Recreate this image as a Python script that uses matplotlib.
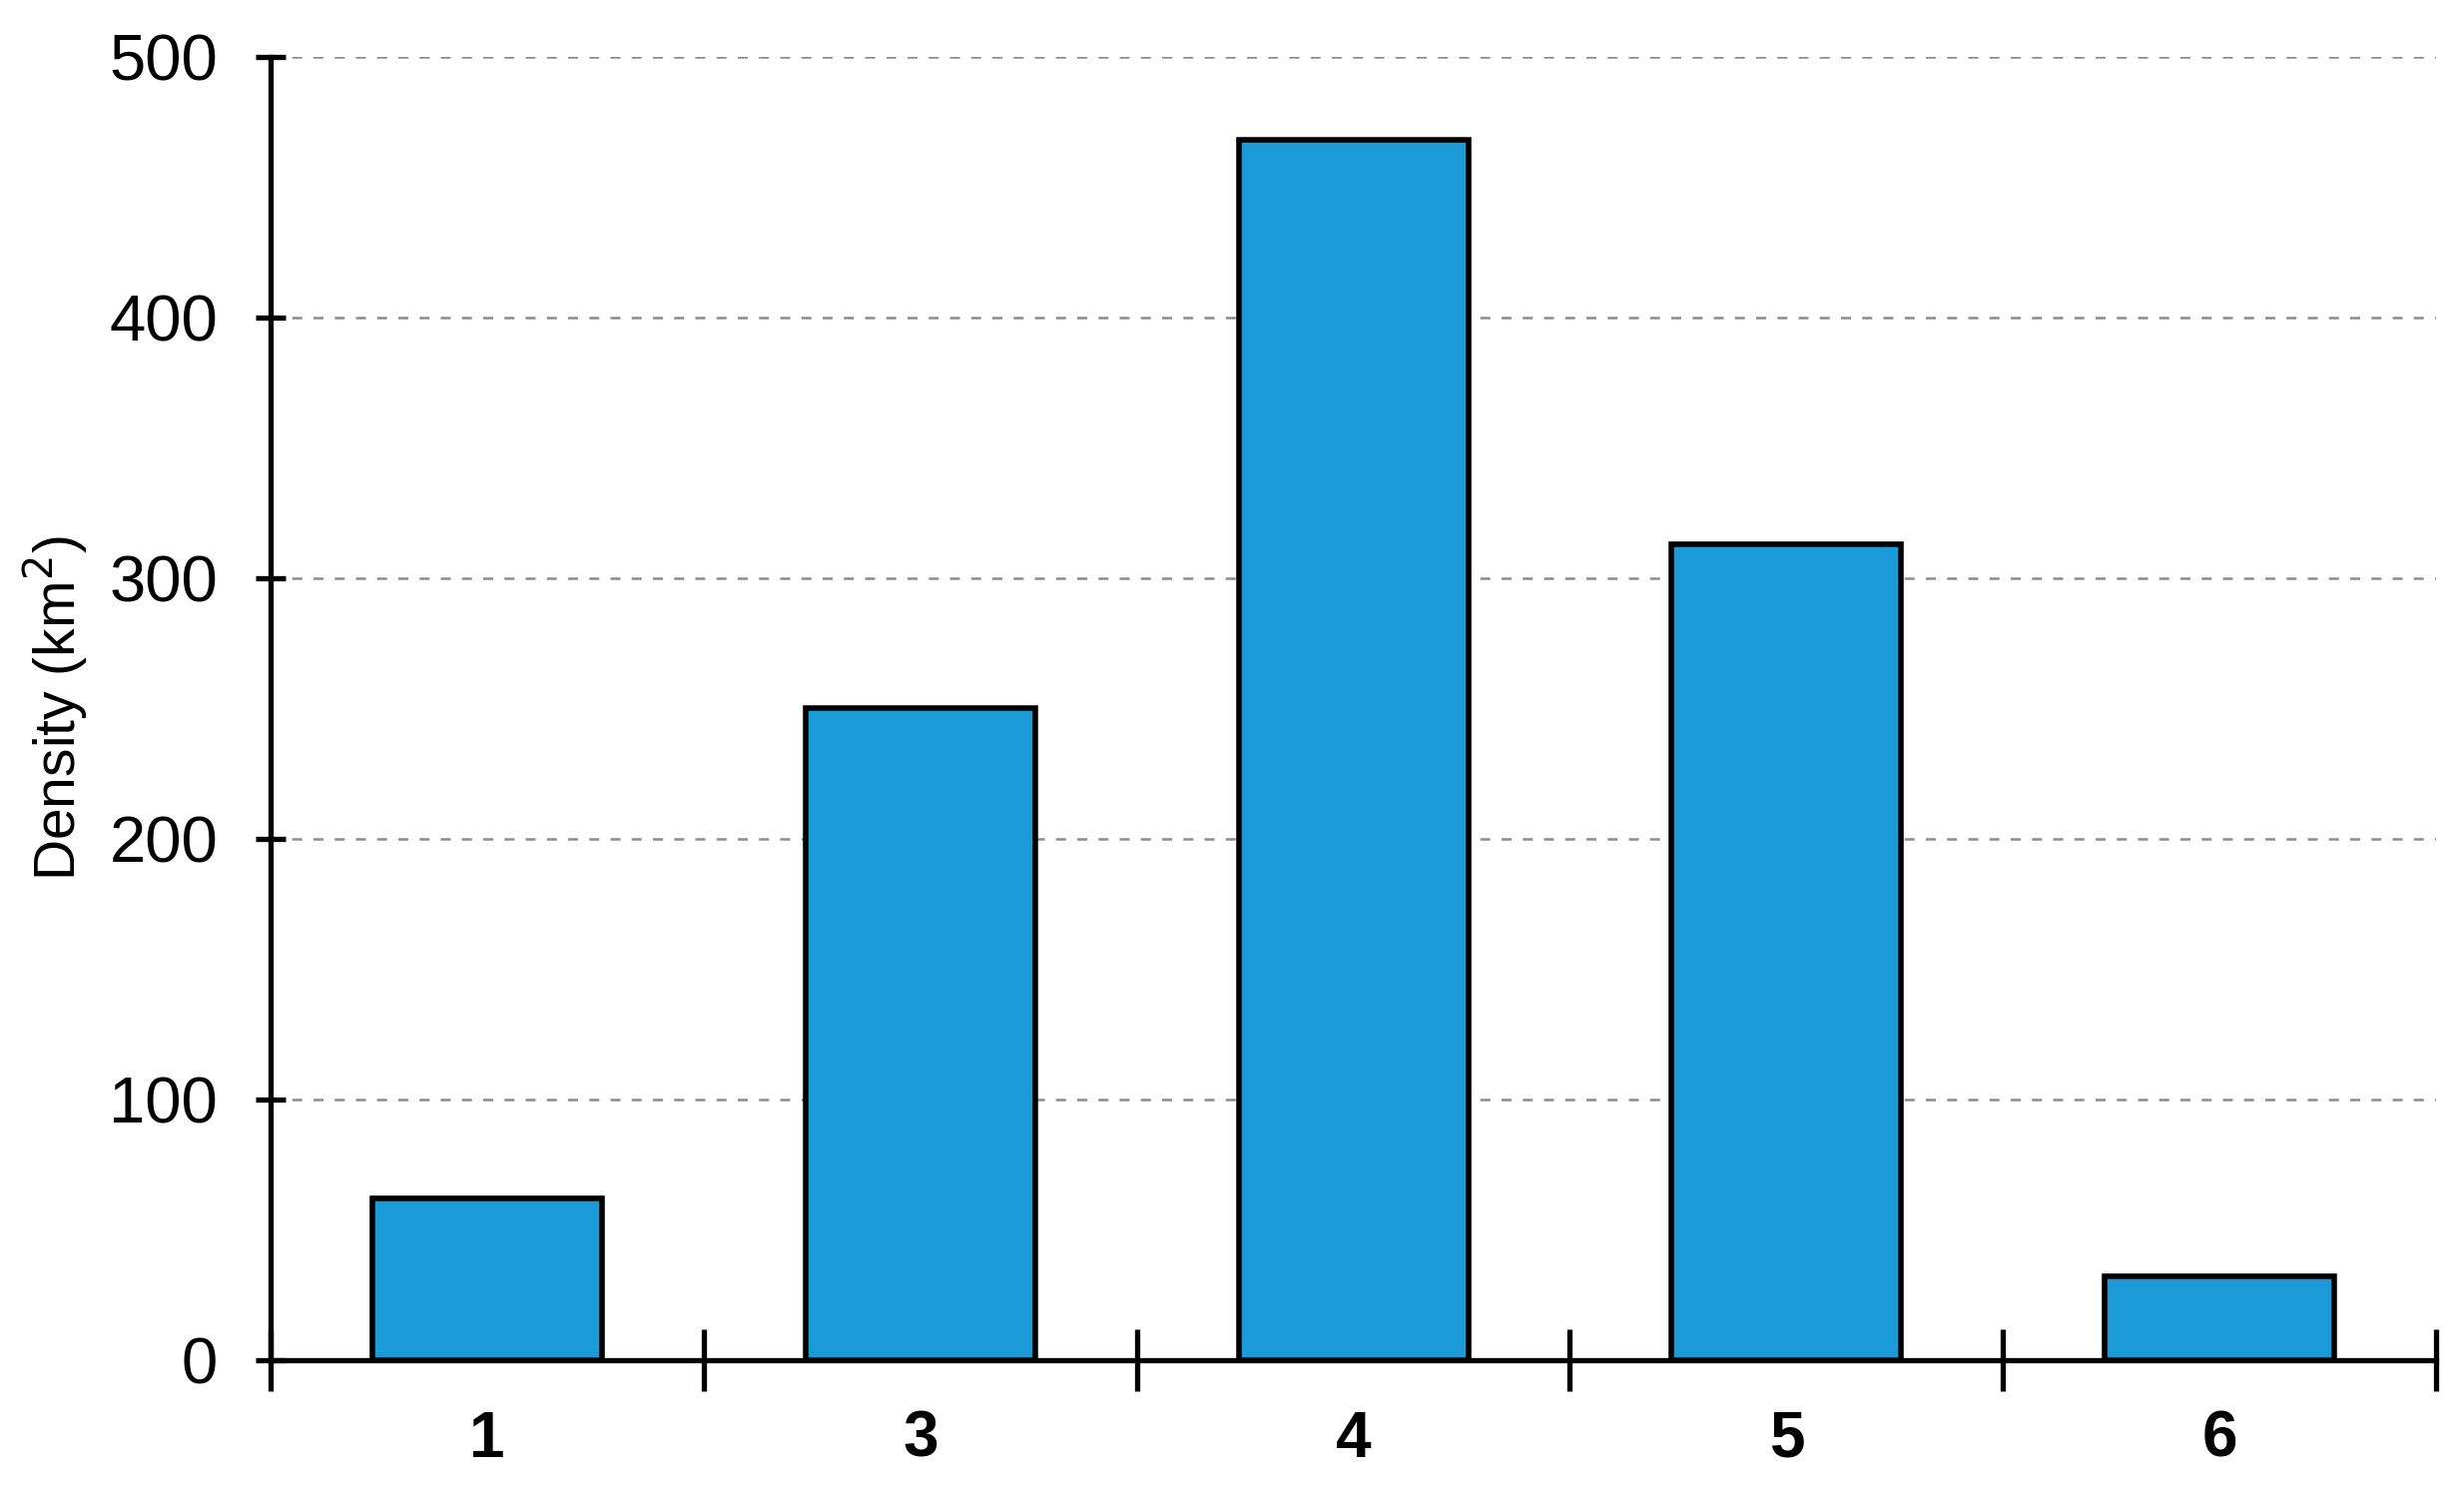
import matplotlib
matplotlib.use("Agg")
import matplotlib.pyplot as plt
from matplotlib.ticker import FixedLocator, NullFormatter

# Data
categories = ["1", "3", "4", "5", "6"]
density = [62, 250, 468, 313, 32]
y_ticks = [0, 100, 200, 300, 400, 500]

bar_color = "#1A9BD7"

plt.rcParams["font.family"] = ["Liberation Sans", "DejaVu Sans"]

fig = plt.figure(figsize=(24.68, 14.99), dpi=100)
ax = fig.add_axes([0.1098, 0.0914, 0.8789, 0.8706])

x = range(len(categories))
ax.bar(x, density, width=0.53, color=bar_color, edgecolor="black",
       linewidth=4, zorder=3)

ax.set_xlim(-0.5, len(categories) - 0.5)
ax.set_ylim(0, 500)

# grid lines (not at 0)
for yv in y_ticks[1:]:
    ax.axhline(yv, color="#8c8c8c", linewidth=1.8, linestyle=(0, (4, 4.5)),
               zorder=1)

# y axis
ax.set_yticks(y_ticks)
ax.set_yticklabels([str(v) for v in y_ticks], fontsize=47)
ax.tick_params(axis="y", direction="inout", length=22, width=3.8, pad=27)

# x axis: labels at centres, ticks at category boundaries
ax.set_xticks(list(x))
ax.set_xticklabels(categories, fontsize=46, fontweight="bold")
ax.tick_params(axis="x", which="major", length=0, pad=36)
ax.xaxis.set_minor_locator(FixedLocator([i - 0.5 for i in range(len(categories) + 1)]))
ax.xaxis.set_minor_formatter(NullFormatter())
ax.tick_params(axis="x", which="minor", direction="inout", length=44, width=3.8)

for spine in ["top", "right"]:
    ax.spines[spine].set_visible(False)
for spine in ["left", "bottom"]:
    ax.spines[spine].set_linewidth(3.8)
    ax.spines[spine].set_zorder(4)

ax.set_ylabel("Density (km$^2$)", fontsize=41, labelpad=14)

fig.savefig("out.png", dpi=100)
